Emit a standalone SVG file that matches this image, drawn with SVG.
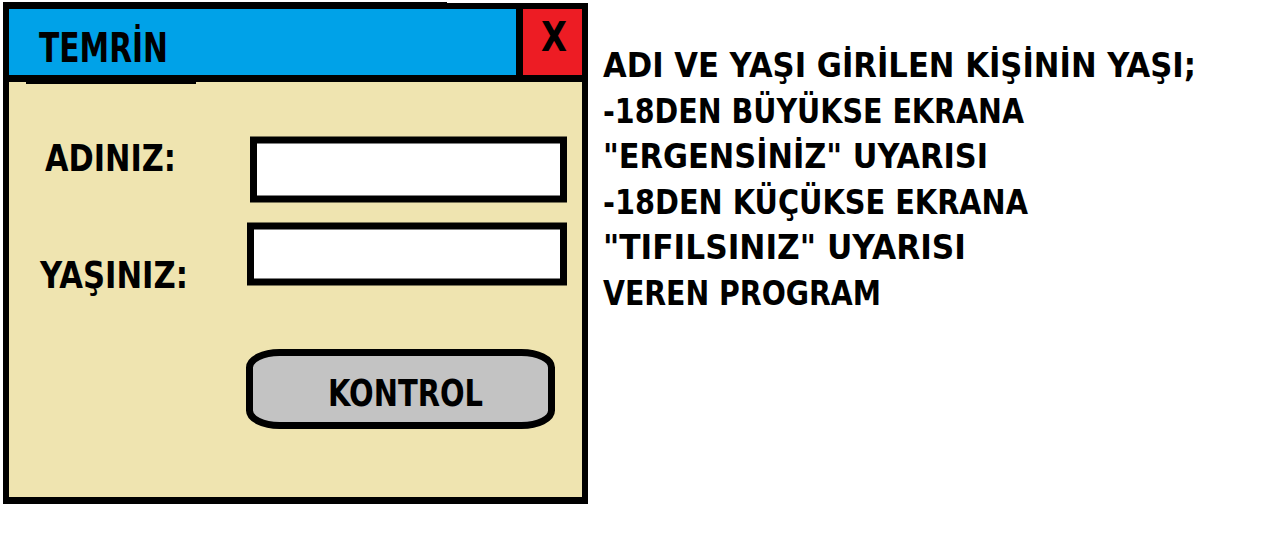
<svg xmlns="http://www.w3.org/2000/svg" width="1286" height="555" viewBox="0 0 1286 555">
  <style>
    .t { font-family: "DejaVu Sans", "Liberation Sans", sans-serif; font-weight: bold; fill: #000; }
    .field { fill: #ffffff; stroke: #000; stroke-width: 7; }
    .desc { font-size: 34px; }
  </style>
  <rect x="0" y="0" width="1286" height="555" fill="#ffffff"/>
  <g id="window">
    <rect x="3" y="3" width="585" height="501" fill="#000"/>
    <rect x="3" y="2" width="444" height="1" fill="#000"/>
    <rect x="9" y="82" width="573" height="415" fill="#efe4b0"/>
    <rect x="26" y="82" width="170" height="2" fill="#000"/>
  </g>
  <g id="titlebar">
    <rect x="9" y="9" width="507" height="66" fill="#00a2e8"/>
    <text class="t" x="39" y="62" font-size="40" textLength="129" lengthAdjust="spacingAndGlyphs">TEMRİN</text>
  </g>
  <g id="close-button">
    <rect x="523" y="9" width="59" height="66" fill="#ed1c24"/>
    <text class="t" x="541" y="51" font-size="40" textLength="26" lengthAdjust="spacingAndGlyphs">X</text>
  </g>
  <g id="label-adiniz">
    <text class="t" x="45" y="171" font-size="37" textLength="131" lengthAdjust="spacingAndGlyphs">ADINIZ:</text>
  </g>
  <g id="input-adiniz">
    <rect class="field" x="253.5" y="140" width="310" height="59"/>
  </g>
  <g id="label-yasiniz">
    <text class="t" x="40" y="288" font-size="37" textLength="148" lengthAdjust="spacingAndGlyphs">YAŞINIZ:</text>
  </g>
  <g id="input-yasiniz">
    <rect class="field" x="250.5" y="226" width="313" height="56"/>
  </g>
  <g id="button-kontrol">
    <rect x="249.5" y="352.5" width="302" height="73" rx="30" ry="15" fill="#c3c3c3" stroke="#000" stroke-width="7"/>
    <text class="t" x="328" y="406" font-size="38" textLength="155" lengthAdjust="spacingAndGlyphs">KONTROL</text>
  </g>
  <g id="description">
    <text class="t desc" x="603" y="77" textLength="593" lengthAdjust="spacingAndGlyphs">ADI VE YAŞI GİRİLEN KİŞİNİN YAŞI;</text>
    <text class="t desc" x="603" y="122.5" textLength="421" lengthAdjust="spacingAndGlyphs">-18DEN BÜYÜKSE EKRANA</text>
    <text class="t desc" x="603" y="168" textLength="385" lengthAdjust="spacingAndGlyphs">"ERGENSİNİZ" UYARISI</text>
    <text class="t desc" x="603" y="213.5" textLength="425" lengthAdjust="spacingAndGlyphs">-18DEN KÜÇÜKSE EKRANA</text>
    <text class="t desc" x="603" y="259" textLength="363" lengthAdjust="spacingAndGlyphs">"TIFILSINIZ" UYARISI</text>
    <text class="t desc" x="603" y="305" textLength="278" lengthAdjust="spacingAndGlyphs">VEREN PROGRAM</text>
  </g>
  <g id="connectors"/>
</svg>
